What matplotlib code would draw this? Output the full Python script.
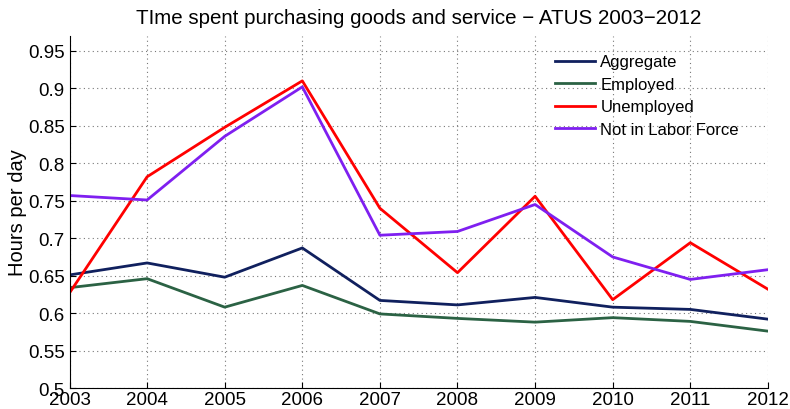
import matplotlib
matplotlib.use("Agg")
import matplotlib.pyplot as plt

# ATUS time spent purchasing goods and services, hours per day
years = [2003, 2004, 2005, 2006, 2007, 2008, 2009, 2010, 2011, 2012]
aggregate = [0.651, 0.667, 0.648, 0.687, 0.617, 0.611, 0.621, 0.608, 0.605, 0.592]
employed = [0.634, 0.646, 0.608, 0.637, 0.599, 0.593, 0.588, 0.594, 0.589, 0.576]
unemployed = [0.627, 0.782, 0.848, 0.910, 0.740, 0.654, 0.756, 0.618, 0.694, 0.632]
not_in_lf = [0.757, 0.751, 0.836, 0.902, 0.704, 0.709, 0.745, 0.675, 0.645, 0.658]
yticks = [0.5, 0.55, 0.6, 0.65, 0.7, 0.75, 0.8, 0.85, 0.9, 0.95]

plt.rcParams["font.family"] = ["Liberation Sans", "DejaVu Sans"]

fig = plt.figure(figsize=(7.9, 4.1), dpi=100)
ax = fig.add_axes([0.088, 0.051, 0.884, 0.859])

ax.plot(years, aggregate, color="#10205e", lw=2, label="Aggregate")
ax.plot(years, employed, color="#2b6244", lw=2, label="Employed")
ax.plot(years, unemployed, color="#ff0000", lw=2, label="Unemployed")
ax.plot(years, not_in_lf, color="#7f1ff0", lw=2, label="Not in Labor Force")

ax.set_xlim(2003, 2012)
ax.set_ylim(0.5, 0.97)
ax.set_xticks(years)
ax.set_yticks(yticks)
ax.set_yticklabels([("%g" % v) for v in yticks])
ax.tick_params(direction="in", labelsize=13.5, length=4)
ax.tick_params(axis="x", pad=2)
ax.grid(True, linestyle=(0, (1, 3)), color="#777777", linewidth=0.8)

for side in ("top", "right"):
  ax.spines[side].set_visible(False)

ax.set_ylabel("Hours per day", fontsize=14.5, labelpad=1)
ax.set_title("TIme spent purchasing goods and service \u2212 ATUS 2003\u22122012", fontsize=14.8, pad=9)

ax.legend(loc="upper right", bbox_to_anchor=(0.98, 0.99), frameon=False, fontsize=12,
          handlelength=2.4, labelspacing=0.45, handletextpad=0.35)

fig.savefig("out.png", dpi=100)
